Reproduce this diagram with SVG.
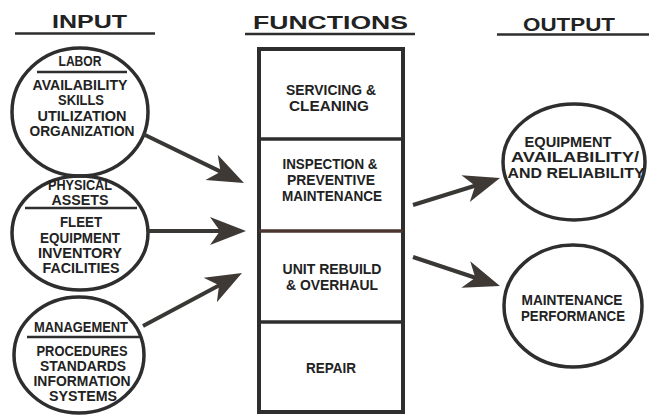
<svg xmlns="http://www.w3.org/2000/svg" width="649" height="418" viewBox="0 0 649 418">
<style>
text{font-family:"Liberation Sans",Arial,sans-serif;font-weight:bold;fill:#222;text-anchor:middle}
.h{font-size:19px}
.t{font-size:14px}
.ring{fill:none;stroke:#2e2e2e;stroke-width:3.5}
.rule{stroke:#2e2e2e;stroke-width:2.5}
.hr{stroke:#2e2e2e;stroke-width:2.5}
.arr{stroke:#3a3835;stroke-width:4;fill:none;marker-end:url(#ah)}
</style>
<defs>
<marker id="ah" viewBox="-40 -16 42 32" refX="-22" refY="0" markerWidth="42" markerHeight="32" markerUnits="userSpaceOnUse" orient="auto">
<path d="M0,0 L-36,-14 L-26,0 L-36,14 Z" fill="#3f3935"/>
</marker>
</defs>
<rect width="649" height="418" fill="#fff"/>

<g id="headers">
<text class="h" x="89.5" y="28" textLength="75" lengthAdjust="spacingAndGlyphs">INPUT</text>
<line class="hr" x1="15" y1="33.5" x2="155" y2="33.5"/>
<text class="h" x="330.5" y="29" textLength="155" lengthAdjust="spacingAndGlyphs">FUNCTIONS</text>
<line class="hr" x1="245" y1="34" x2="415" y2="34"/>
<text class="h" x="569" y="31" textLength="92" lengthAdjust="spacingAndGlyphs">OUTPUT</text>
<line class="hr" x1="497" y1="34.5" x2="649" y2="34.5"/>
</g>

<g id="labor">
<ellipse class="ring" cx="80" cy="112" rx="68" ry="64"/>
<text class="t" x="80" y="66" textLength="43" lengthAdjust="spacingAndGlyphs">LABOR</text>
<line class="rule" x1="37" y1="72" x2="127" y2="72"/>
<text class="t" x="80" y="90" textLength="95" lengthAdjust="spacingAndGlyphs">AVAILABILITY</text>
<text class="t" x="81" y="105" textLength="46" lengthAdjust="spacingAndGlyphs">SKILLS</text>
<text class="t" x="82" y="121" textLength="89" lengthAdjust="spacingAndGlyphs">UTILIZATION</text>
<text class="t" x="82" y="136" textLength="105" lengthAdjust="spacingAndGlyphs">ORGANIZATION</text>
</g>

<g id="physical">
<ellipse class="ring" cx="80" cy="233" rx="68" ry="57"/>
<text class="t" x="80" y="190" textLength="64" lengthAdjust="spacingAndGlyphs">PHYSICAL</text>
<text class="t" x="80" y="205" textLength="57" lengthAdjust="spacingAndGlyphs">ASSETS</text>
<line class="rule" x1="25" y1="208" x2="137" y2="208"/>
<text class="t" x="81" y="227" textLength="42" lengthAdjust="spacingAndGlyphs">FLEET</text>
<text class="t" x="80" y="243" textLength="80" lengthAdjust="spacingAndGlyphs">EQUIPMENT</text>
<text class="t" x="80" y="258" textLength="84" lengthAdjust="spacingAndGlyphs">INVENTORY</text>
<text class="t" x="81" y="273" textLength="77" lengthAdjust="spacingAndGlyphs">FACILITIES</text>
</g>

<g id="management">
<ellipse class="ring" cx="79" cy="355" rx="65" ry="58"/>
<text class="t" x="81" y="332" textLength="94" lengthAdjust="spacingAndGlyphs">MANAGEMENT</text>
<line class="rule" x1="27" y1="337" x2="140" y2="337"/>
<text class="t" x="82" y="356" textLength="91" lengthAdjust="spacingAndGlyphs">PROCEDURES</text>
<text class="t" x="83" y="371" textLength="86" lengthAdjust="spacingAndGlyphs">STANDARDS</text>
<text class="t" x="82" y="386" textLength="97" lengthAdjust="spacingAndGlyphs">INFORMATION</text>
<text class="t" x="83" y="401" textLength="68" lengthAdjust="spacingAndGlyphs">SYSTEMS</text>
</g>

<g id="functions">
<rect x="259" y="49" width="144" height="363" fill="none" stroke="#2e2e2e" stroke-width="4"/>
<line x1="259" y1="139" x2="403" y2="139" stroke="#2e2e2e" stroke-width="3.5"/>
<line x1="259" y1="231" x2="403" y2="231" stroke="#4a3530" stroke-width="3.5"/>
<line x1="259" y1="322" x2="403" y2="322" stroke="#2e2e2e" stroke-width="3.5"/>
</g>
<g id="servicing">
<text class="t" x="331" y="95" textLength="90" lengthAdjust="spacingAndGlyphs">SERVICING &amp;</text>
<text class="t" x="329" y="111" textLength="80" lengthAdjust="spacingAndGlyphs">CLEANING</text>
</g>
<g id="inspection">
<text class="t" x="330" y="169" textLength="95" lengthAdjust="spacingAndGlyphs">INSPECTION &amp;</text>
<text class="t" x="331" y="185" textLength="88" lengthAdjust="spacingAndGlyphs">PREVENTIVE</text>
<text class="t" x="332" y="201" textLength="100" lengthAdjust="spacingAndGlyphs">MAINTENANCE</text>
</g>
<g id="rebuild">
<text class="t" x="332" y="274" textLength="99" lengthAdjust="spacingAndGlyphs">UNIT REBUILD</text>
<text class="t" x="332" y="290" textLength="92" lengthAdjust="spacingAndGlyphs">&amp; OVERHAUL</text>
</g>
<g id="repair">
<text class="t" x="331" y="373" textLength="50" lengthAdjust="spacingAndGlyphs">REPAIR</text>
</g>

<g id="availability">
<ellipse class="ring" cx="574" cy="162" rx="71" ry="58"/>
<text class="t" x="568" y="147" textLength="87" lengthAdjust="spacingAndGlyphs">EQUIPMENT</text>
<text class="t" x="575" y="162" textLength="128" lengthAdjust="spacingAndGlyphs">AVAILABILITY/</text>
<text class="t" x="576" y="178" textLength="137" lengthAdjust="spacingAndGlyphs">AND RELIABILITY</text>
</g>

<g id="performance">
<ellipse class="ring" cx="573" cy="306" rx="69" ry="61"/>
<text class="t" x="572" y="305" textLength="101" lengthAdjust="spacingAndGlyphs">MAINTENANCE</text>
<text class="t" x="573" y="321" textLength="104" lengthAdjust="spacingAndGlyphs">PERFORMANCE</text>
</g>

<g id="connectors">
<line class="arr" x1="143" y1="134" x2="224.2" y2="173.4"/>
<line class="arr" x1="148" y1="231" x2="224" y2="231" stroke="#5a3c34"/>
<line class="arr" x1="143" y1="326" x2="222.6" y2="283.4"/>
<line class="arr" x1="413" y1="205" x2="479" y2="184.5"/>
<line class="arr" x1="413" y1="257" x2="479.1" y2="279"/>
</g>
</svg>
